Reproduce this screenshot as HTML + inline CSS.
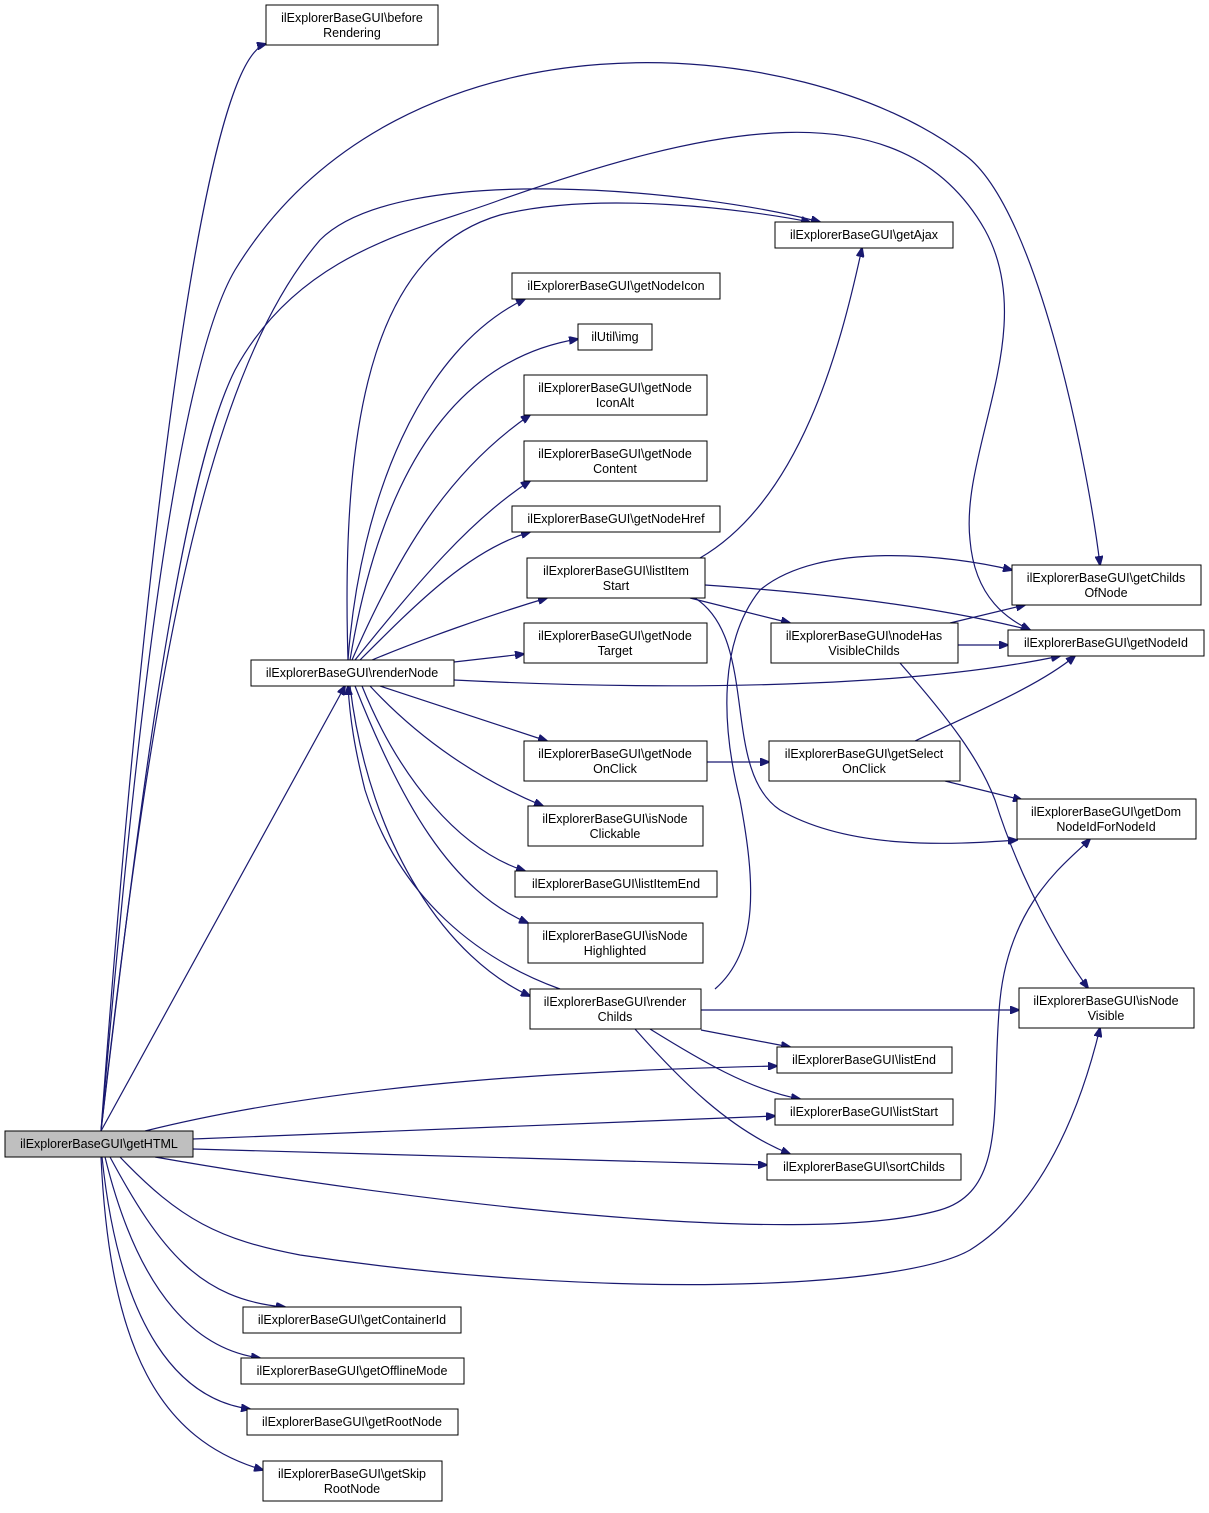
<!DOCTYPE html>
<html><head><meta charset="utf-8"><style>
html,body{margin:0;padding:0;background:#fff}
svg text{font-family:"Liberation Sans",sans-serif;font-size:12.5px;fill:#000;text-anchor:middle}
</style></head><body>
<svg width="1209" height="1508" viewBox="0 0 1209 1508" xmlns="http://www.w3.org/2000/svg">
<defs><marker id="a" markerWidth="10" markerHeight="8" refX="9" refY="4" orient="auto" markerUnits="userSpaceOnUse"><path d="M0,0 L10,4 L0,8 Z" fill="#191970" stroke="#191970"/></marker></defs>
<g fill="none" stroke="#191970" stroke-width="1.2" marker-end="url(#a)">
<path d="M101,1131 C140,600 200,60 266,44"/>
<path d="M101,1131 C130,800 170,380 235,270 C400,0 800,30 965,155 C1040,210 1090,480 1100,565"/>
<path d="M101,1131 C140,800 180,480 235,370 C300,250 420,230 500,200 C700,130 900,80 985,230 C1040,330 960,450 970,540 C975,600 1010,620 1030,630"/>
<path d="M101,1131 C150,700 200,380 320,240 C400,160 700,190 820,222"/>
<path d="M101,1131 L345,686"/>
<path d="M145,1131 C350,1080 600,1070 777,1066"/>
<path d="M193,1139 L775,1116"/>
<path d="M193,1149 L767,1165"/>
<path d="M155,1157 C400,1200 800,1250 940,1210 C1010,1190 990,1100 1000,1000 C1010,900 1070,860 1090,839"/>
<path d="M120,1157 C180,1220 220,1240 300,1255 C600,1300 900,1290 970,1250 C1050,1200 1085,1090 1100,1028"/>
<path d="M110,1157 C160,1250 200,1300 285,1307"/>
<path d="M105,1157 C140,1300 200,1350 260,1358"/>
<path d="M102,1157 C120,1330 180,1400 250,1409"/>
<path d="M101,1157 C110,1350 160,1440 263,1470"/>
<path d="M348,660 C340,400 380,250 500,215 C600,190 750,210 810,222"/>
<path d="M348,660 C360,500 420,350 525,299"/>
<path d="M350,660 C380,480 450,360 578,339"/>
<path d="M352,660 C400,550 450,470 530,415"/>
<path d="M355,660 C420,580 470,520 530,481"/>
<path d="M360,660 C420,600 470,550 530,532"/>
<path d="M372,660 C420,640 490,615 547,598"/>
<path d="M454,662 L524,654"/>
<path d="M454,680 C650,690 900,690 1060,656"/>
<path d="M380,686 L547,741"/>
<path d="M370,686 C420,740 480,780 543,806"/>
<path d="M362,686 C400,780 460,850 525,871"/>
<path d="M355,686 C400,800 450,890 528,923"/>
<path d="M350,686 C370,850 450,960 530,996"/>
<path d="M560,989 C480,960 400,900 365,790 C355,750 350,720 348,686"/>
<path d="M700,558 C800,500 840,350 862,248"/>
<path d="M705,585 C850,595 950,610 1030,630"/>
<path d="M690,598 L790,623"/>
<path d="M695,598 C760,640 720,770 780,810 C850,850 950,845 1017,840"/>
<path d="M950,623 L1025,605"/>
<path d="M958,645 L1008,645"/>
<path d="M900,663 C950,720 980,760 995,800 C1020,880 1060,950 1088,988"/>
<path d="M707,762 L769,762"/>
<path d="M915,741 C980,710 1040,685 1075,656"/>
<path d="M945,781 L1022,800"/>
<path d="M715,989 C760,950 755,880 740,800 C720,720 720,640 760,590 C820,540 950,555 1012,570"/>
<path d="M701,1010 L1019,1010"/>
<path d="M701,1030 L790,1047"/>
<path d="M650,1029 C700,1060 750,1090 800,1099"/>
<path d="M635,1029 C680,1080 730,1130 790,1154"/>
</g>
<g stroke="#000" stroke-width="1" fill="#fff">
<rect x="5" y="1131" width="188" height="26" fill="#bfbfbf"/>
<rect x="266" y="5" width="172" height="40"/>
<rect x="775" y="222" width="178" height="26"/>
<rect x="512" y="273" width="208" height="26"/>
<rect x="578" y="324" width="74" height="26"/>
<rect x="524" y="375" width="183" height="40"/>
<rect x="524" y="441" width="183" height="40"/>
<rect x="512" y="506" width="208" height="26"/>
<rect x="527" y="558" width="178" height="40"/>
<rect x="524" y="623" width="183" height="40"/>
<rect x="251" y="660" width="203" height="26"/>
<rect x="524" y="741" width="183" height="40"/>
<rect x="528" y="806" width="175" height="40"/>
<rect x="515" y="871" width="202" height="26"/>
<rect x="528" y="923" width="175" height="40"/>
<rect x="530" y="989" width="171" height="40"/>
<rect x="1012" y="565" width="189" height="40"/>
<rect x="771" y="623" width="187" height="40"/>
<rect x="1008" y="630" width="196" height="26"/>
<rect x="769" y="741" width="191" height="40"/>
<rect x="1017" y="799" width="179" height="40"/>
<rect x="1019" y="988" width="175" height="40"/>
<rect x="777" y="1047" width="175" height="26"/>
<rect x="775" y="1099" width="178" height="26"/>
<rect x="767" y="1154" width="194" height="26"/>
<rect x="243" y="1307" width="218" height="26"/>
<rect x="241" y="1358" width="223" height="26"/>
<rect x="247" y="1409" width="211" height="26"/>
<rect x="263" y="1461" width="179" height="40"/>
</g>
<text x="99" y="1148">ilExplorerBaseGUI\getHTML</text>
<text x="352" y="22">ilExplorerBaseGUI\before</text><text x="352" y="37">Rendering</text>
<text x="864" y="239">ilExplorerBaseGUI\getAjax</text>
<text x="616" y="290">ilExplorerBaseGUI\getNodeIcon</text>
<text x="615" y="341">ilUtil\img</text>
<text x="615" y="392">ilExplorerBaseGUI\getNode</text><text x="615" y="407">IconAlt</text>
<text x="615" y="458">ilExplorerBaseGUI\getNode</text><text x="615" y="473">Content</text>
<text x="616" y="523">ilExplorerBaseGUI\getNodeHref</text>
<text x="616" y="575">ilExplorerBaseGUI\listItem</text><text x="616" y="590">Start</text>
<text x="615" y="640">ilExplorerBaseGUI\getNode</text><text x="615" y="655">Target</text>
<text x="352" y="677">ilExplorerBaseGUI\renderNode</text>
<text x="615" y="758">ilExplorerBaseGUI\getNode</text><text x="615" y="773">OnClick</text>
<text x="615" y="823">ilExplorerBaseGUI\isNode</text><text x="615" y="838">Clickable</text>
<text x="616" y="888">ilExplorerBaseGUI\listItemEnd</text>
<text x="615" y="940">ilExplorerBaseGUI\isNode</text><text x="615" y="955">Highlighted</text>
<text x="615" y="1006">ilExplorerBaseGUI\render</text><text x="615" y="1021">Childs</text>
<text x="1106" y="582">ilExplorerBaseGUI\getChilds</text><text x="1106" y="597">OfNode</text>
<text x="864" y="640">ilExplorerBaseGUI\nodeHas</text><text x="864" y="655">VisibleChilds</text>
<text x="1106" y="647">ilExplorerBaseGUI\getNodeId</text>
<text x="864" y="758">ilExplorerBaseGUI\getSelect</text><text x="864" y="773">OnClick</text>
<text x="1106" y="816">ilExplorerBaseGUI\getDom</text><text x="1106" y="831">NodeIdForNodeId</text>
<text x="1106" y="1005">ilExplorerBaseGUI\isNode</text><text x="1106" y="1020">Visible</text>
<text x="864" y="1064">ilExplorerBaseGUI\listEnd</text>
<text x="864" y="1116">ilExplorerBaseGUI\listStart</text>
<text x="864" y="1171">ilExplorerBaseGUI\sortChilds</text>
<text x="352" y="1324">ilExplorerBaseGUI\getContainerId</text>
<text x="352" y="1375">ilExplorerBaseGUI\getOfflineMode</text>
<text x="352" y="1426">ilExplorerBaseGUI\getRootNode</text>
<text x="352" y="1478">ilExplorerBaseGUI\getSkip</text><text x="352" y="1493">RootNode</text>
</svg>
</body></html>
